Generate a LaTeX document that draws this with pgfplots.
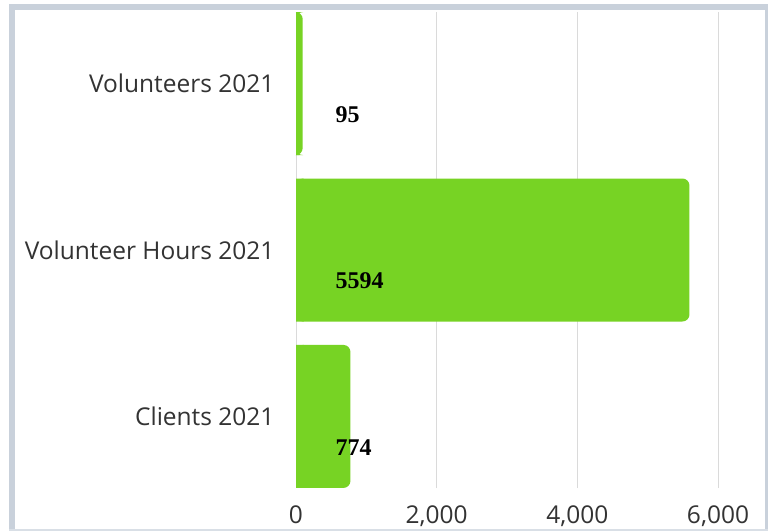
\documentclass[border=0pt]{standalone}
\usepackage{pgfplots}
\pgfplotsset{compat=1.18}
\usepackage{fontspec}
\setmainfont{Open Sans}
\newfontfamily\valfont{Liberation Serif}
\definecolor{barg}{HTML}{77D324}
\definecolor{frameg}{HTML}{C9D1DB}
\definecolor{gridg}{HTML}{DADADA}
\definecolor{txt}{HTML}{333333}
\begin{document}
\begin{tikzpicture}[x=1pt,y=1pt]
\useasboundingbox (0,0) rectangle (768,531);
\fill[white] (0,0) rectangle (768,531);
% frame
\fill[frameg] (9,0) rectangle (15,527);
\fill[frameg] (9,521) rectangle (768,527);
\fill[frameg] (765,0) rectangle (768,527);
\fill[frameg!70] (9,0) rectangle (768,2);
\begin{axis}[
  at={(296pt,43pt)}, anchor=south west,
  scale only axis, width=454pt, height=476pt,
  xmin=0, xmax=6455, ymin=-0.43, ymax=2.43,
  axis line style={draw=none},
  xmajorgrids, grid style={gridg, line width=1pt},
  xtick={0,2000,4000,6000},
  xticklabels={0,{2,000},{4,000},{6,000}},
  ytick={0,1,2},
  yticklabels={Clients 2021,Volunteer Hours 2021,Volunteers 2021},
  major tick length=0pt,
  tick label style={font=\fontsize{24.5}{28}\selectfont, text=txt},
  yticklabel style={anchor=east, xshift=-18pt},
  xticklabel style={anchor=north, yshift=-14pt},
  clip=false,
]
\addplot[xbar, bar width=143pt, bar shift=0pt, fill=barg, draw=none, rounded corners=7pt]
  coordinates {(774,0) (5594,1) (95,2)};
\addplot[xbar, bar width=143pt, bar shift=0pt, fill=barg, draw=none, x filter/.expression={min(x/2,110)}]
  coordinates {(774,0) (5594,1) (95,2)};
\addplot[draw=none, mark=none, nodes near coords, point meta=explicit symbolic,
  every node near coord/.append style={anchor=west, xshift=36pt, yshift=-31pt,
  font=\valfont\bfseries\fontsize{24}{28}\selectfont, text=black}]
  coordinates {(0,2) [95] (0,1) [5594] (0,0) [774]};
\end{axis}
\end{tikzpicture}
\end{document}
